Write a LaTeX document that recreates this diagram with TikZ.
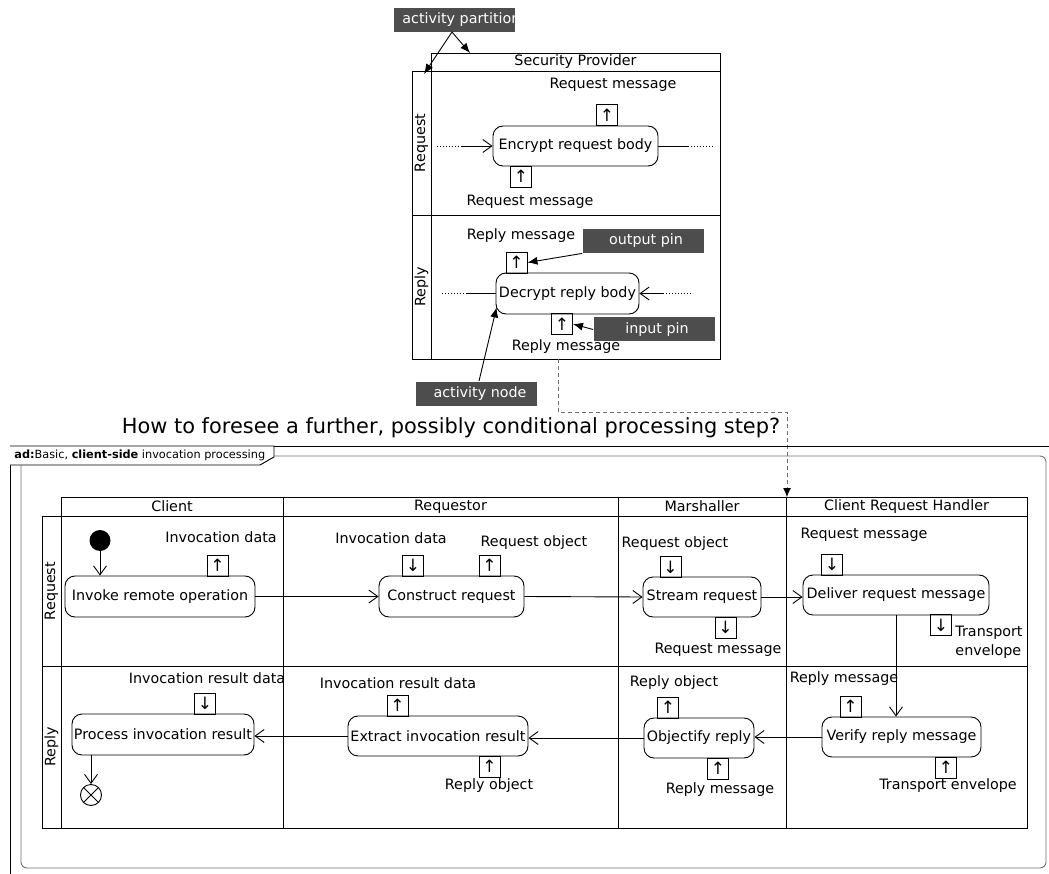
\documentclass[tikz,border=0pt]{standalone}
\usepackage{fontspec}
\setmainfont{DejaVu Sans}
\usetikzlibrary{arrows.meta}
\usetikzlibrary{positioning}

\definecolor{notegray}{RGB}{77,77,77}
\definecolor{framegray}{RGB}{110,110,110}

\begin{document}
\begin{tikzpicture}[x=1pt,y=-1pt,line width=0.9pt,
    font=\fontsize{14.3}{17}\selectfont,
    act/.style={draw,rounded corners=10pt,inner sep=0pt},
    pinbox/.style={draw,minimum width=21pt,minimum height=21pt,inner sep=0pt,font=\fontsize{17}{17}\selectfont},
    note/.style={fill=notegray,text=white,minimum width=121pt,minimum height=24pt,inner sep=0pt},
    flow/.style={-{Straight Barb[length=9pt,width=13pt]}},
    notearrow/.style={-{Latex[length=10pt,width=8pt]}},
    dots/.style={dash pattern=on 1pt off 2pt}]
  \useasboundingbox (0,0) rectangle (1049,874);

  % Security Provider partition
  \draw (431,53) rectangle (720,71);
  \node (sphead) at (575.5,62) {Security Provider};
  \draw (412,71) rectangle (720,359);
  \draw (431,71) -- (431,359);
  \draw (412,215) -- (720,215);
  \node[rotate=90] (spreq) at (421.5,143) {Request};
  \node[rotate=90] (sprep) at (421.5,287) {Reply};

  \node[act,minimum width=165pt,minimum height=40pt] (encrypt) at (575.5,146) {Encrypt request body};
  \node[pinbox] (encout) at (607,115) {↑};
  \node (encoutlbl) at (613,85) {Request message};
  \node[pinbox] (encin) at (521,176.5) {↑};
  \node (encinlbl) at (530,202) {Request message};
  \coordinate (encleft) at (437,146);
  \coordinate (encmidl) at (462,146);
  \coordinate (encmidr) at (688,146);
  \coordinate (encright) at (713,146);
  \draw[dots] (encleft) -- (encmidl);
  \draw[flow] (encmidl) -- (encrypt.west);
  \draw (encrypt.east) -- (encmidr);
  \draw[dots] (encmidr) -- (encright);

  \node[act,minimum width=143pt,minimum height=41pt] (decrypt) at (567.5,293.5) {Decrypt reply body};
  \node[pinbox] (decout) at (516.5,262.5) {↑};
  \node (decoutlbl) at (521,236) {Reply message};
  \node[pinbox] (decin) at (562,324) {↑};
  \node (decinlbl) at (566,347) {Reply message};
  \coordinate (decleft) at (442,293.5);
  \coordinate (decmidl) at (467,293.5);
  \coordinate (decmidr) at (663,293.5);
  \coordinate (decright) at (693,293.5);
  \draw[dots] (decleft) -- (decmidl);
  \draw (decmidl) -- (decrypt.west);
  \draw[dots] (decmidr) -- (decright);
  \draw[flow] (decmidr) -- (decrypt.east);

  % annotations
  \node[note,anchor=north west] (partnote) at (394,8) {};
  \begin{scope}
    \clip (394,8) rectangle (516,32);
    \node[text=white,anchor=west,inner sep=0pt] (partlbl) at (402,20) {activity partition};
  \end{scope}
  \coordinate (partfoot) at (452,32);
  \coordinate (lanecorner) at (424,74);
  \coordinate (headtop) at (470,53);
  \draw[notearrow] (partfoot) -- (lanecorner);
  \draw[notearrow] (partfoot) -- (headtop);

  \node[note] (outnote) at (643,241) {\hspace{6pt}output pin};
  \draw[notearrow] (outnote.south west) -- (decout.east);
  \node[note] (innote) at (654,329.5) {\hspace{6pt}input pin};
  \draw[notearrow] (innote.west) -- (decin.east);
  \node[note] (actnote) at (476,393.5) {\hspace{8pt}activity node};
  \draw[notearrow] ([xshift=3pt]actnote.north) -- ([xshift=1pt,yshift=7pt]decrypt.south west);

  % question
  \node[font=\fontsize{20.9}{24}\selectfont] (question) at (451,428) {How to foresee a further, possibly conditional processing step?};
  \coordinate (spfoot) at (558,359);
  \coordinate (handlertop) at (787,497);
  \draw[framegray,dash pattern=on 4pt off 3pt,-{Latex[length=9pt,width=8pt,color=black]}]
    (spfoot) -- (558,412) -- (787,412) -- (handlertop);

  % diagram frame
  \draw (10,874) -- (10,446) -- (1049,446);
  \draw[framegray,rounded corners=6pt] (21,456) rectangle (1046,868);
  \draw[fill=white] (10,446) -- (274,446) -- (274,457) -- (260,465) -- (10,465);
  \node[anchor=west,inner sep=0pt,font=\fontsize{11.3}{13}\selectfont] (framelbl) at (14,455.5)
    {\textbf{ad:}Basic, \textbf{client-side} invocation processing};

  % swimlanes
  \draw (61,497) rectangle (1027,516);
  \draw (42,516) rectangle (1027,828);
  \draw (61,516) -- (61,828);
  \draw (42,666) -- (1027,666);
  \foreach \x in {283,618,786} \draw (\x,497) -- (\x,828);
  \node (client) at (172,506.5) {Client};
  \node (requestor) at (450.5,506.5) {Requestor};
  \node (marshaller) at (702,506.5) {Marshaller};
  \node (handler) at (906.5,506.5) {Client Request Handler};
  \node[rotate=90] (reqlane) at (51.5,591) {Request};
  \node[rotate=90] (replane) at (51.5,747) {Reply};

  % request lane
  \node[circle,fill=black,minimum size=21pt,inner sep=0pt] (start) at (100,540.5) {};
  \node[act,minimum width=190pt,minimum height=41pt] (invoke) at (160,596.5) {Invoke remote operation};
  \node[pinbox] (invokeout) at (217.5,565.5) {↑};
  \node (invokeoutlbl) at (221,537) {Invocation data};
  \draw[flow] (start.south) -- (start.south |- invoke.north);

  \node[act,minimum width=145pt,minimum height=41pt] (construct) at (451.5,596.5) {Construct request};
  \node[pinbox] (constructin) at (413,565.5) {↓};
  \node (constructinlbl) at (391,538) {Invocation data};
  \node[pinbox] (constructout) at (489.5,565.5) {↑};
  \node (constructoutlbl) at (534,543) {Request object};
  \draw[flow] (invoke.east) -- (construct.west);

  \node[act,minimum width=118pt,minimum height=40pt] (stream) at (702,597) {Stream request};
  \node[pinbox] (streamin) at (670.5,567) {↓};
  \node (streaminlbl) at (675,544) {Request object};
  \node[pinbox] (streamout) at (725.5,627.5) {↓};
  \node (streamoutlbl) at (718,650) {Request message};
  \draw[flow] (construct.east) -- (stream.west);

  \node[act,minimum width=186pt,minimum height=40pt] (deliver) at (896,595) {Deliver request message};
  \node[pinbox] (deliverin) at (832,564.5) {↓};
  \node (deliverinlbl) at (864,535) {Request message};
  \node[pinbox] (deliverout) at (941,625) {↓};
  \node[anchor=west,align=left,inner sep=0pt,font=\fontsize{14.3}{19}\selectfont] (deliveroutlbl) at (955,642.5) {Transport\\envelope};
  \draw[flow] (stream.east) -- (stream.east -| deliver.west);

  % reply lane
  \node[act,minimum width=159pt,minimum height=40pt] (verify) at (901.5,737) {Verify reply message};
  \node[pinbox] (verifyin) at (850.5,706.5) {↑};
  \node (verifyinlbl) at (844,679) {Reply message};
  \node[pinbox] (verifyout) at (946,767.5) {↑};
  \node (verifyoutlbl) at (948,786) {Transport envelope};
  \draw[flow] (deliver.south) -- (deliver.south |- verify.north);

  \node[act,minimum width=110pt,minimum height=40pt] (objectify) at (699,738) {Objectify reply};
  \node[pinbox] (objectifyout) at (668,707.5) {↑};
  \node (objectifyoutlbl) at (674,683) {Reply object};
  \node[pinbox] (objectifyin) at (718,768.5) {↑};
  \node (objectifyinlbl) at (720,790) {Reply message};
  \draw[flow] (verify.west) -- (verify.west -| objectify.east);

  \node[act,minimum width=180pt,minimum height=40pt] (extract) at (438,736) {Extract invocation result};
  \node[pinbox] (extractout) at (397.5,705.5) {↑};
  \node (extractoutlbl) at (398,683) {Invocation result data};
  \node[pinbox] (extractin) at (489.5,766.5) {↑};
  \node (extractinlbl) at (489,786) {Reply object};
  \draw[flow] (objectify.west) -- (objectify.west -| extract.east);

  \node[act,minimum width=182pt,minimum height=41pt] (process) at (163,734.5) {Process invocation result};
  \node[pinbox] (processin) at (205,703.5) {↓};
  \node (processinlbl) at (207,678) {Invocation result data};
  \draw[flow] (extract.west) -- (extract.west -| process.east);

  \node[circle,draw,minimum size=21pt,inner sep=0pt] (final) at (91,795) {};
  \draw (final.north west) -- (final.south east) (final.north east) -- (final.south west);
  \draw[flow] (process.south -| final) -- (final.north);
\end{tikzpicture}
\end{document}
